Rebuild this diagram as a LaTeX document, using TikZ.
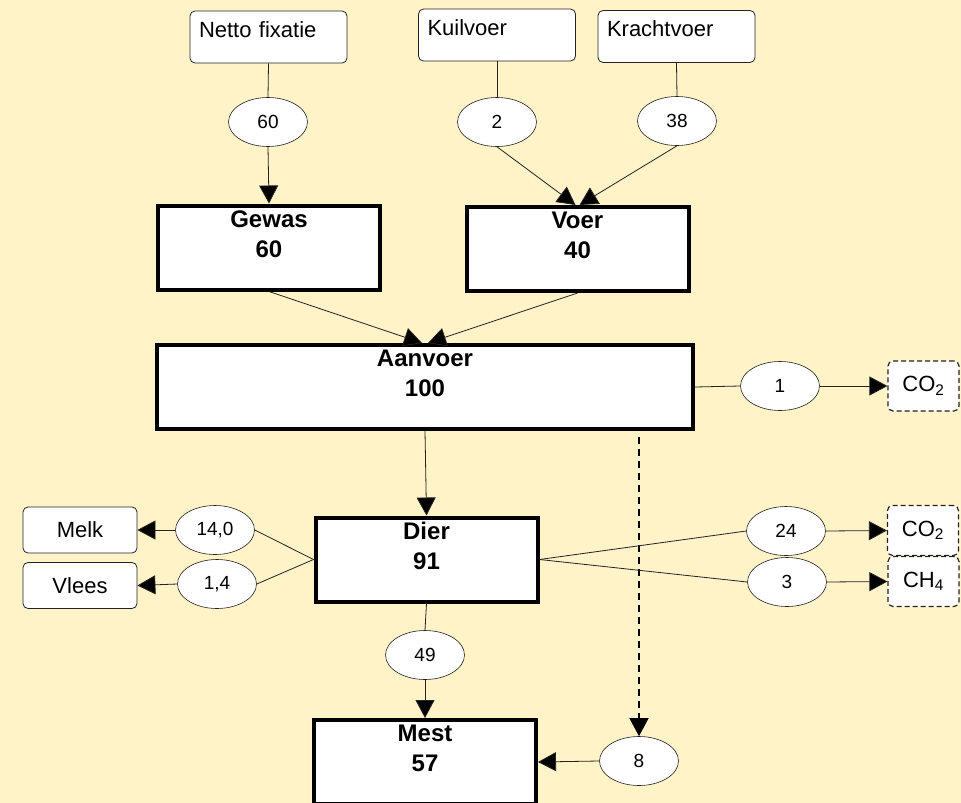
\documentclass[tikz,border=0pt]{standalone}
\usepackage{fontspec}
\setmainfont{Liberation Sans}
\usetikzlibrary{shapes.geometric,arrows.meta}
\definecolor{paper}{RGB}{255,243,199}
\definecolor{ink}{RGB}{35,35,35}

\begin{document}
\begin{tikzpicture}[x=1pt, y=-1pt,
       source/.style={rectangle,rounded corners=5pt,draw=ink,line width=0.8pt,fill=white,
      minimum width=157pt,text width=139pt,align=left,inner xsep=9pt,inner ysep=10pt,
      text height=16pt,text depth=16pt,font=\fontsize{22}{26}\selectfont},
        sink/.style={rectangle,rounded corners=5pt,draw=ink,line width=0.8pt,fill=white,
      minimum width=114pt,minimum height=46pt,inner sep=0pt,font=\fontsize{22}{26}\selectfont},
        gas/.style={sink,dash pattern=on 5pt off 3pt,line width=1.2pt,
      minimum width=71pt,minimum height=50pt},
        flux/.style={ellipse,draw=ink,line width=0.6pt,fill=white,inner sep=0pt,
      minimum width=79pt,minimum height=49pt,font=\fontsize{19}{22}\selectfont},
        stock/.style={rectangle,draw,line width=4pt,fill=white,minimum width=222pt,
      minimum height=84pt,inner xsep=0pt,inner ysep=5pt,
      font=\bfseries\fontsize{24}{30}\selectfont,
      execute at begin node={\begin{minipage}[t][74pt][t]{200pt}\centering},
      execute at end node={\end{minipage}}},
        wire/.style={ink,line width=0.8pt},
        flow/.style={wire,-{Triangle[length=18pt,width=19pt,fill=black]}},
        leak/.style={flow,black,line width=1.3pt,dash pattern=on 7pt off 5pt,shorten <=6pt}]

        \path [use as bounding box,fill=paper] (0,0) rectangle (961,803);

	\node [source] (netto) at (268.5, 37)      {Netto fixatie};
        \node [source] (kuil) at (497, 35)         {Kuilvoer};
        \node [source] (kracht) at (676.5, 36.5)   {Krachtvoer};
        \node [flux] (n60) at (268, 122)           {60};
        \node [flux] (n2) at (497, 122)            {2};
        \node [flux] (n38) at (677, 121)           {38};
        \node [stock] (gewas) at (269, 247.5)      {Gewas\\60};
        \node [stock] (voer) at (577.5, 249)       {Voer\\40};
        \node [stock,minimum width=536pt] (aanvoer) at (425, 387) {Aanvoer\\100};
        \node [flux] (n1) at (780, 386)            {1};
        \node [gas] (co2a) at (923.5, 386)         {CO\textsubscript{2}};
        \node [stock] (dier) at (426.5, 559.5)     {Dier\\91};
        \node [flux] (n140) at (215, 530)          {14,0};
        \node [flux] (n14) at (217, 584)           {1,4};
        \node [sink] (melk) at (80, 530)           {Melk};
        \node [sink] (vlees) at (80, 585.5)        {Vlees};
        \node [flux] (n24) at (786, 531)           {24};
        \node [flux] (n3) at (787, 582)            {3};
        \node [gas] (co2b) at (923, 530.5)         {CO\textsubscript{2}};
        \node [gas] (ch4) at (923.5, 581.5)        {CH\textsubscript{4}};
        \node [flux] (n49) at (425, 655)           {49};
        \node [stock] (mest) at (425, 762)         {Mest\\57};
        \node [flux] (n8) at (639, 761)            {8};

        \path [wire] (netto.south) edge (n60.north);
        \path [wire] (kuil.south) edge (n2.north);
        \path [wire] (kracht.south) edge (n38.north);
        \path [flow] (n60.south) edge (gewas.north);
        \path [flow] (n2.south) edge ([xshift=-2pt]voer.north);
        \path [flow] (n38.south) edge ([xshift=2pt]voer.north);
        \path [flow] (gewas.south) edge ([xshift=-3pt]aanvoer.north);
        \path [flow] (voer.south) edge ([xshift=3pt]aanvoer.north);
        \path [wire] (aanvoer.east) edge (n1.west);
        \path [flow] (n1.east) edge (co2a.west);
        \path [flow] (aanvoer.south) edge (dier.north);
        \path [leak] (aanvoer.south -| n8.north) edge (n8.north);
        \path [wire] (dier.west) edge (n140.east);
        \path [wire] (dier.west) edge (n14.east);
        \path [flow] (n140.west) edge (melk.east);
        \path [flow] (n14.west) edge (vlees.east);
        \path [wire] (dier.east) edge (n24.west);
        \path [wire] (dier.east) edge (n3.west);
        \path [flow] (n24.east) edge (co2b.west);
        \path [flow] (n3.east) edge (ch4.west);
        \path [wire] (dier.south) edge (n49.north);
        \path [flow] (n49.south) edge (mest.north);
        \path [flow] (n8.west) edge (mest.east);
\end{tikzpicture}
\end{document}
